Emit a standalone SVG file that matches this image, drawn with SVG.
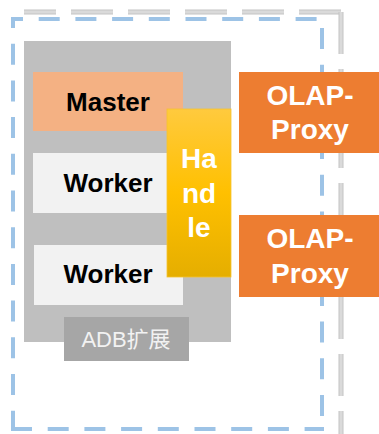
<svg xmlns="http://www.w3.org/2000/svg" width="379" height="434" viewBox="0 0 379 434">
  <style>
    .box-text { font-family: "Liberation Sans", "Noto Sans CJK SC", sans-serif; font-weight: bold; text-anchor: middle; }
    .dark { fill: #000000; font-size: 26px; }
    .light { fill: #FFFFFF; font-size: 28px; }
    .blue-dash { stroke: #9DC3E6; stroke-width: 4; fill: none; stroke-dasharray: 21 15.7; }
  </style>
  <defs>
    <linearGradient id="handleFill" x1="0" y1="0" x2="0" y2="1">
      <stop offset="0" stop-color="#FFCA3E"/>
      <stop offset="0.5" stop-color="#FFC000"/>
      <stop offset="1" stop-color="#E5AE00"/>
    </linearGradient>
  </defs>
  <rect width="379" height="434" fill="#FFFFFF"/>

  <!-- outer boundaries -->
  <g id="connectors">
    <g id="gray-boundary" fill="none" stroke-dasharray="42 15">
      <path d="M341 12 H24" stroke="#C4C4C4" stroke-width="5"/>
      <path d="M341 12 H24" stroke="#DADADA" stroke-width="3"/>
      <path d="M341 12 V440" stroke="#C4C4C4" stroke-width="5"/>
      <path d="M341 12 V440" stroke="#DADADA" stroke-width="3"/>
    </g>
    <g id="blue-boundary">
      <path class="blue-dash" d="M11 19 H324" stroke-dashoffset="9"/>
      <path class="blue-dash" d="M13 17 V431" stroke-dashoffset="10"/>
      <path class="blue-dash" d="M11 429 H324" stroke-dashoffset="0"/>
      <path class="blue-dash" d="M322 17 V431" stroke-dashoffset="25.7"/>
    </g>
  </g>

  <g id="adb-container">
    <rect x="24" y="41" width="207" height="301" fill="#BFBFBF"/>
  </g>

  <g id="master">
    <rect x="33" y="72" width="150" height="59" fill="#F4B183"/>
    <text class="box-text dark" x="108" y="111">Master</text>
  </g>

  <g id="worker-1">
    <rect x="33" y="153" width="150" height="60" fill="#F2F2F2"/>
    <text class="box-text dark" x="108" y="192">Worker</text>
  </g>

  <g id="worker-2">
    <rect x="34" y="245" width="149" height="60" fill="#F2F2F2"/>
    <text class="box-text dark" x="108" y="283">Worker</text>
  </g>

  <g id="handle">
    <rect x="167" y="109" width="64" height="168" fill="url(#handleFill)" stroke="#F5C330" stroke-width="0.8"/>
    <text class="box-text light" x="199" y="168">Ha</text>
    <text class="box-text light" x="199" y="203">nd</text>
    <text class="box-text light" x="199" y="237">le</text>
  </g>

  <g id="adb-label">
    <rect x="64" y="317" width="125" height="44" fill="#A6A6A6"/>
    <text x="126" y="347" font-family="Liberation Sans, Noto Sans CJK SC, sans-serif" font-size="22" fill="#F2F2F2" text-anchor="middle">ADB扩展</text>
  </g>

  <g id="olap-proxy-1">
    <rect x="239" y="72" width="140" height="81" fill="#ED7D31"/>
    <text class="box-text light" x="310" y="105">OLAP-</text>
    <text class="box-text light" x="310" y="139">Proxy</text>
  </g>

  <g id="olap-proxy-2">
    <rect x="239" y="215" width="140" height="82" fill="#ED7D31"/>
    <text class="box-text light" x="310" y="248">OLAP-</text>
    <text class="box-text light" x="310" y="283">Proxy</text>
  </g>
</svg>
